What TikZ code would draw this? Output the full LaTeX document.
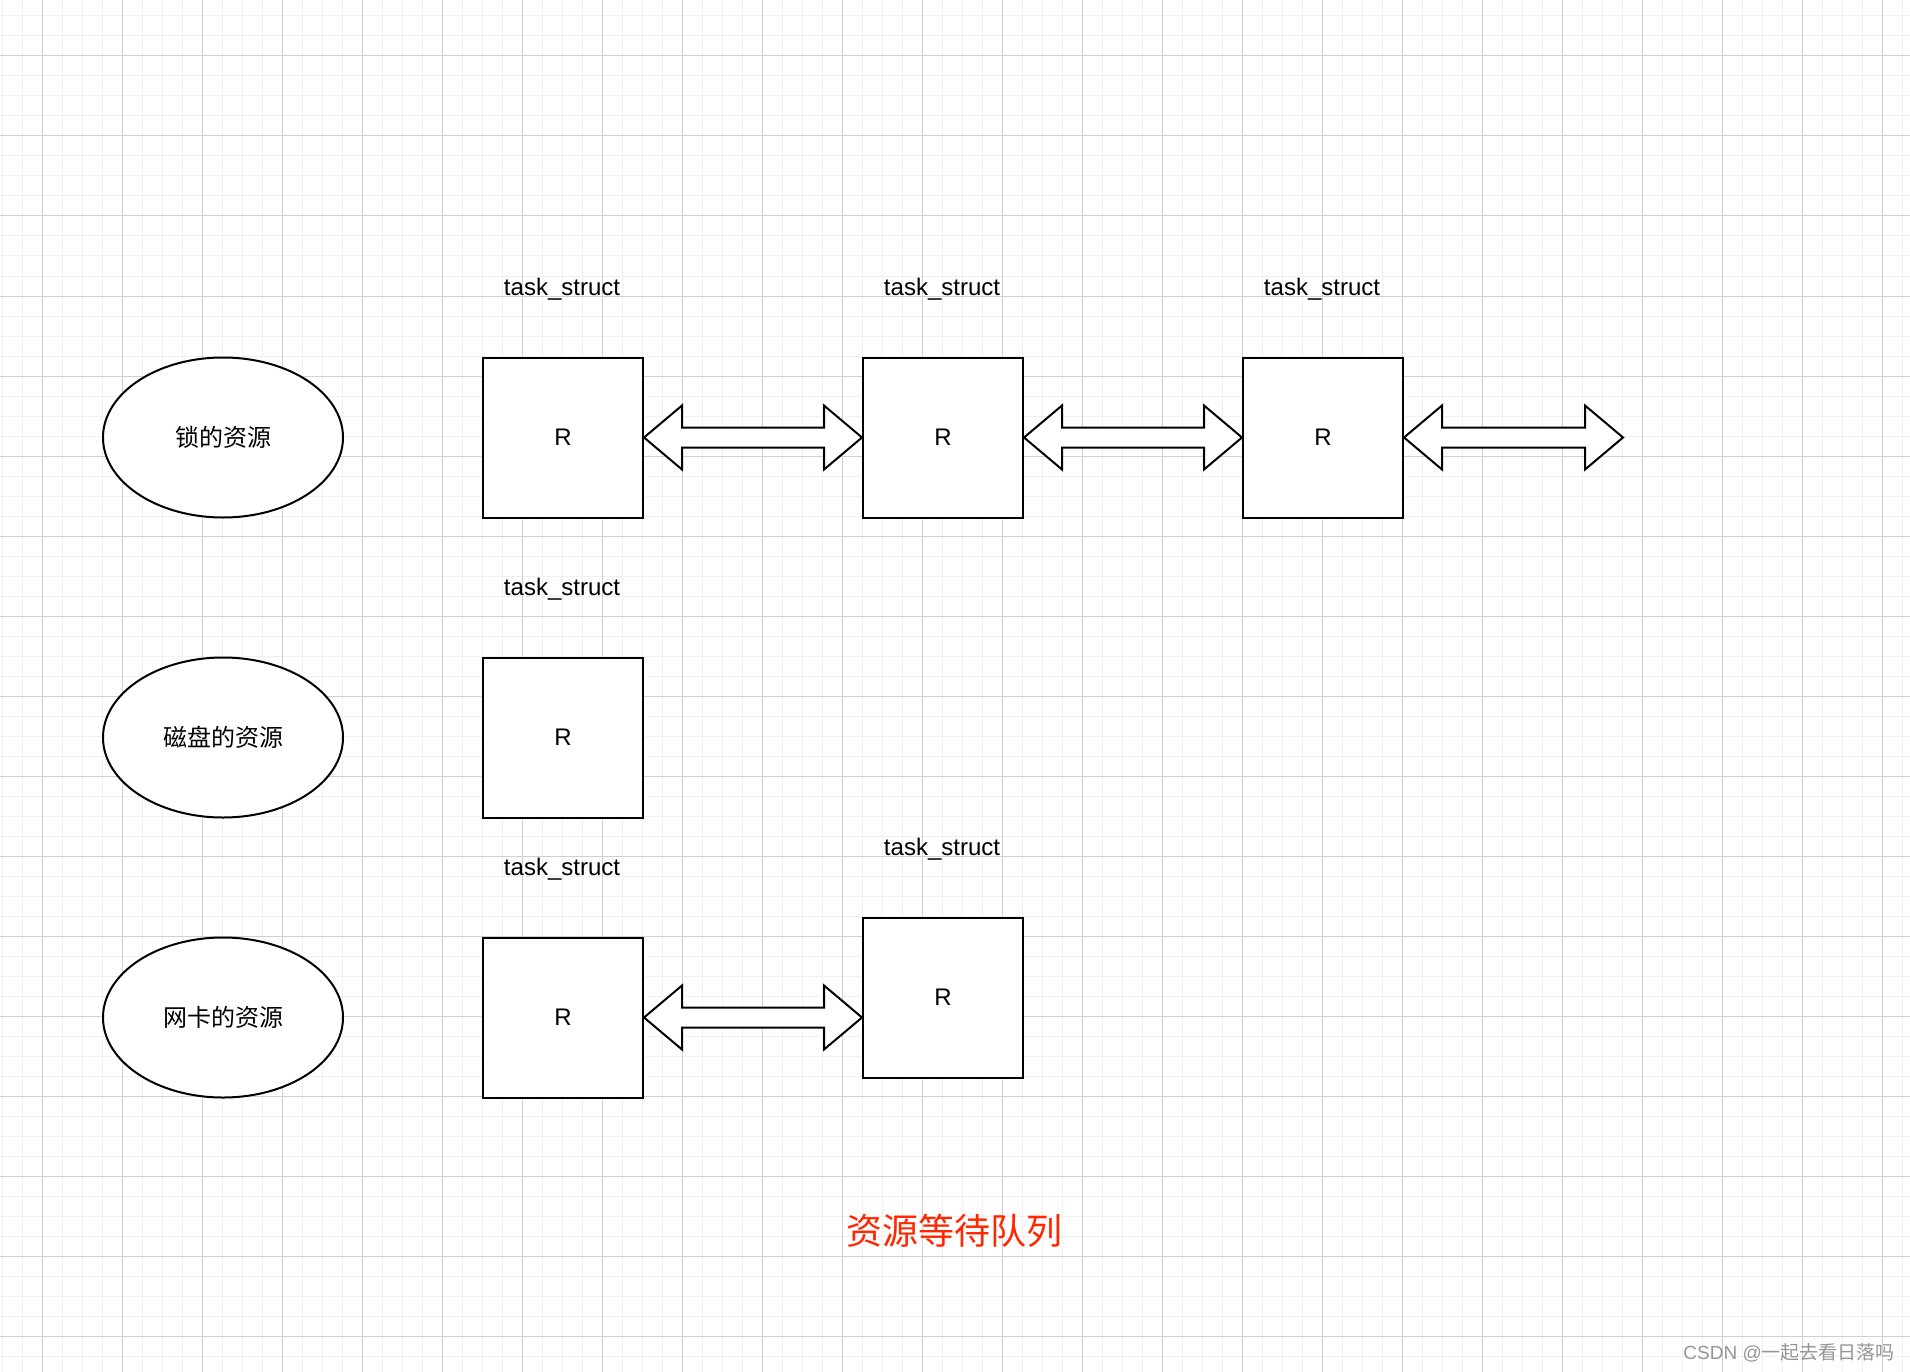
\documentclass[tikz,border=0pt]{standalone}
\usepackage{fontspec}
\setmainfont{Liberation Sans}
\newfontfamily\cjk{Noto Sans CJK SC}
\usetikzlibrary{shapes.geometric,calc}
\definecolor{gridminor}{RGB}{240,240,240}
\definecolor{gridmajor}{RGB}{208,208,208}
\definecolor{titlered}{RGB}{255,38,0}
\definecolor{wmgray}{RGB}{150,150,150}
\newcommand\dblarrow[2]{%
  \draw[dbl] (#1) -- ($(#1)+(38,-32)$) -- ($(#1)+(38,-10)$) -- ($(#2)+(-38,-10)$)
    -- ($(#2)+(-38,-32)$) -- (#2) -- ($(#2)+(-38,32)$) -- ($(#2)+(-38,10)$)
    -- ($(#1)+(38,10)$) -- ($(#1)+(38,32)$) -- cycle;}
\begin{document}
\begin{tikzpicture}[x=1pt,y=-1pt,
  stepbox/.style={draw,line width=2pt,fill=white,minimum size=160pt,inner sep=0pt,font=\fontsize{24}{28}\selectfont},
  res/.style={draw,ellipse,line width=2pt,fill=white,minimum width=240pt,minimum height=160pt,inner sep=0pt,font=\cjk\fontsize{24}{28}\selectfont},
  lbl/.style={inner sep=0pt,font=\fontsize{24}{28}\selectfont},
  dbl/.style={draw,line width=2pt,fill=white,line join=miter},
  minorline/.style={gridminor,line width=1pt},
  majorline/.style={gridmajor,line width=1pt}]
\fill[white] (0,0) rectangle (1910,1372);
\useasboundingbox (0,0) rectangle (1910,1372);
\foreach \x in {2,22,...,1902} \draw[minorline] (\x,0) -- (\x,1372);
\foreach \y in {16,36,...,1372} \draw[minorline] (0,\y) -- (1910,\y);
\foreach \x in {42,122,...,1902} \draw[majorline] (\x,0) -- (\x,1372);
\foreach \y in {56,136,...,1372} \draw[majorline] (0,\y) -- (1910,\y);

% row 1
\node[res] (e1) at (223,437.5) {锁的资源};
\node[stepbox] (b11) at (563,437.5) {R};
\node[stepbox] (b12) at (943,437.5) {R};
\node[stepbox] (b13) at (1323,437.5) {R};
\coordinate (end1) at (1623,437.5);
\node[lbl] (l11) at (562,289) {task\_struct};
\node[lbl] (l12) at (942,289) {task\_struct};
\node[lbl] (l13) at (1322,289) {task\_struct};
\dblarrow{b11.east}{b12.west}
\dblarrow{b12.east}{b13.west}
\dblarrow{b13.east}{end1}

% row 2
\node[res] (e2) at (223,737.5) {磁盘的资源};
\node[stepbox] (b21) at (563,737.5) {R};
\node[lbl] (l21) at (562,589) {task\_struct};

% row 3
\node[res] (e3) at (223,1017.5) {网卡的资源};
\node[stepbox] (b31) at (563,1017.5) {R};
\node[stepbox] (b32) at (943,997.5) {R};
\node[lbl] (l31) at (562,869) {task\_struct};
\node[lbl] (l32) at (942,849) {task\_struct};
\coordinate (a3end) at (b32.west |- b31.east);
\dblarrow{b31.east}{a3end}

% title and watermark
\node[inner sep=0pt,text=titlered,font=\cjk\fontsize{36}{40}\selectfont] (title) at (954,1231) {资源等待队列};
\node[inner sep=0pt,anchor=east,text=wmgray,font=\fontsize{19}{22}\selectfont] (wm) at (1895,1353) {CSDN @{\cjk 一起去看日落吗}};
\end{tikzpicture}
\end{document}
